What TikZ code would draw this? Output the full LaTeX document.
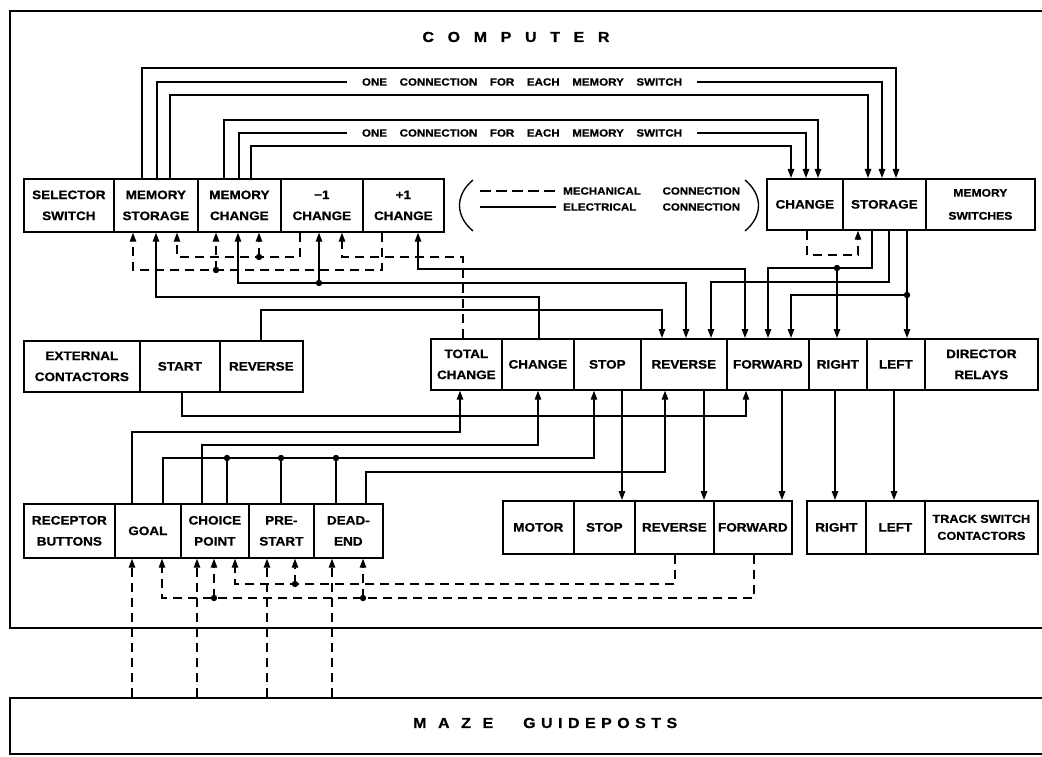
\documentclass[tikz,border=0pt]{standalone}
\usepackage{fontspec}
\newfontfamily\lblfont{Liberation Sans}[FakeStretch=1.1,FakeBold=0.8]
\usetikzlibrary{arrows.meta}
\newcommand\mkcell[7][]{\node[cell,minimum width=#5pt,minimum height=#6pt,#1] (#2) at (#3,#4) {#7};}
\begin{document}
\begin{tikzpicture}[x=1pt,y=-1pt,
  cell/.style={draw,line width=1.7pt,inner sep=0pt,anchor=north west,align=center,
    font=\lblfont\bfseries\fontsize{12.3}{21}\selectfont},
  frame/.style={draw,line width=1.9pt,inner sep=0pt,anchor=north west},
  wire/.style={line width=1.35pt},
  mech/.style={line width=1.35pt,dash pattern=on 9pt off 6pt},
  tip/.style={-{Triangle[length=9pt,width=6.5pt]}},
  tipboth/.style={{Triangle[length=9pt,width=6.5pt]}-{Triangle[length=9pt,width=6.5pt]}},
  lbl/.style={inner ysep=0pt,inner xsep=15pt,font=\lblfont\bfseries\fontsize{10.5}{10.5}\selectfont},
  leg/.style={inner ysep=0pt,inner xsep=7pt,anchor=west,font=\lblfont\bfseries\fontsize{10.5}{10.5}\selectfont},
  big/.style={inner sep=0pt,font=\lblfont\bfseries\fontsize{14.5}{14.5}\selectfont},
]
\useasboundingbox (0,0) rectangle (1042,757);

% frames
\node[frame,minimum width=1045pt,minimum height=617pt] (comp) at (9,10) {};
\node[frame,minimum width=1045pt,minimum height=56pt] (maze) at (9,697) {};
\node[big] (title) at (516,37) {\hbox to 187pt{C\hfill O\hfill M\hfill P\hfill U\hfill T\hfill E\hfill R}};
\node[big,anchor=west] (mazet) at (413,723) {\hbox to 80pt{M\hfill A\hfill Z\hfill E}\hspace{30pt}\hbox to 154pt{G\hfill U\hfill I\hfill D\hfill E\hfill P\hfill O\hfill S\hfill T\hfill S}};

% row 1
\mkcell{sel}{23}{178}{90}{53}{SELECTOR\\SWITCH}
\mkcell{mst}{113}{178}{84}{53}{MEMORY\\STORAGE}
\mkcell{mch}{197}{178}{83}{53}{MEMORY\\CHANGE}
\mkcell{mmi}{280}{178}{82}{53}{−1\\CHANGE}
\mkcell{mpl}{362}{178}{81}{53}{+1\\CHANGE}
\mkcell{swc}{766}{178}{76}{51}{CHANGE}
\mkcell{sws}{842}{178}{83}{51}{STORAGE}
\mkcell[font=\lblfont\bfseries\fontsize{11}{23}\selectfont]{swl}{925}{178}{109}{51}{MEMORY\\SWITCHES}

% legend
\node[leg] (lgm) at (556,191) {\hbox to 177pt{MECHANICAL\hfill CONNECTION}};
\node[leg] (lge) at (556,207) {\hbox to 177pt{ELECTRICAL\hfill CONNECTION}};
\draw[line width=1.35pt,dash pattern=on 11pt off 5pt] (480,191) -- (lgm.west);
\draw[line width=1.35pt] (480,207) -- (lge.west);
\draw[line width=1.35pt] (473,180) .. controls (455,195) and (455,216) .. (473,231);
\draw[line width=1.35pt] (745,180) .. controls (763,195) and (763,216) .. (745,231);

% row 2
\mkcell{ext}{23}{340}{116}{51}{EXTERNAL\\CONTACTORS}
\mkcell{est}{139}{340}{80}{51}{START}
\mkcell{erv}{219}{340}{83}{51}{REVERSE}
\mkcell{dtc}{430}{338}{71}{51}{TOTAL\\CHANGE}
\mkcell{dch}{501}{338}{72}{51}{CHANGE}
\mkcell{dst}{573}{338}{67}{51}{STOP}
\mkcell{drv}{640}{338}{86}{51}{REVERSE}
\mkcell{dfw}{726}{338}{82}{51}{FORWARD}
\mkcell{drt}{808}{338}{58}{51}{RIGHT}
\mkcell{dlf}{866}{338}{58}{51}{LEFT}
\mkcell{dlb}{924}{338}{113}{51}{DIRECTOR\\RELAYS}

% row 3
\mkcell{rrb}{23}{503}{91}{54}{RECEPTOR\\BUTTONS}
\mkcell{rgo}{114}{503}{66}{54}{GOAL}
\mkcell{rcp}{180}{503}{68}{54}{CHOICE\\POINT}
\mkcell{rps}{248}{503}{65}{54}{PRE-\\START}
\mkcell{rde}{313}{503}{69}{54}{DEAD-\\END}
\mkcell{mot}{502}{500}{71}{53}{MOTOR}
\mkcell{mtp}{573}{500}{61}{53}{STOP}
\mkcell{mrv}{634}{500}{79}{53}{REVERSE}
\mkcell{mfw}{713}{500}{78}{53}{FORWARD}
\mkcell{trt}{806}{500}{59}{53}{RIGHT}
\mkcell{tlf}{865}{500}{59}{53}{LEFT}
\mkcell[font=\lblfont\bfseries\fontsize{11.5}{17}\selectfont]{tlb}{924}{500}{113}{53}{TRACK SWITCH\\CONTACTORS}

% top wiring
\node[lbl] (lab1) at (522,82) {\hbox to 320pt{ONE\hfill CONNECTION\hfill FOR\hfill EACH\hfill MEMORY\hfill SWITCH}};
\node[lbl] (lab2) at (522,133) {\hbox to 320pt{ONE\hfill CONNECTION\hfill FOR\hfill EACH\hfill MEMORY\hfill SWITCH}};
\draw[wire,tip] (142,0 |- mst.north) |- (896,68) -- (896,0 |- sws.north);
\draw[wire] (157,0 |- mst.north) |- (lab1.west);
\draw[wire,tip] (lab1.east) -| (882,0 |- sws.north);
\draw[wire,tip] (170,0 |- mst.north) |- (868,95) -- (868,0 |- sws.north);
\draw[wire,tip] (224,0 |- mch.north) |- (818,120) -- (818,0 |- swc.north);
\draw[wire] (239,0 |- mch.north) |- (lab2.west);
\draw[wire,tip] (lab2.east) -| (806,0 |- swc.north);
\draw[wire,tip] (251,0 |- mch.north) |- (791,146) -- (791,0 |- swc.north);

% under row 1
\coordinate (ja) at (216,270);
\coordinate (jb) at (259,257);
\coordinate (jc) at (319,283);
\draw[mech,tip] (382,0 |- mpl.south) |- (133,270) -- (133,0 |- mst.south);
\draw[mech,tip] (ja) -- (216,0 |- mch.south);
\draw[mech,tip] (300,0 |- mmi.south) |- (177,257) -- (177,0 |- mst.south);
\draw[mech,tip] (jb) -- (259,0 |- mch.south);
\draw[mech,tip] (463,0 |- dtc.north) |- (342,257) -- (342,0 |- mmi.south);
\draw[wire,tip] (539,0 |- dch.north) |- (156,297) -- (156,0 |- mst.south);
\draw[wire,tipboth] (238,0 |- mch.south) |- (jc) -| (686,0 |- drv.north);
\draw[wire,tip] (jc) -- (319,0 |- mmi.south);
\draw[wire,tipboth] (418,0 |- mpl.south) |- (745,269) -- (745,0 |- dfw.north);
\draw[wire,tip] (261,0 |- erv.north) |- (662,310) -- (662,0 |- drv.north);

% memory switches to director relays
\coordinate (jd) at (837,268);
\coordinate (je) at (907,295);
\draw[wire,tip] (872,0 |- sws.south) |- (768,268) -- (768,0 |- dfw.north);
\draw[wire,tip] (jd) -- (837,0 |- drt.north);
\draw[wire,tip] (889,0 |- sws.south) |- (711,282) -- (711,0 |- drv.north);
\draw[wire,tip] (907,0 |- sws.south) -- (907,0 |- dlf.north);
\draw[wire,tip] (je) -- (791,295) -- (791,0 |- dfw.north);
\draw[mech,tip] (807,0 |- swc.south) |- (858,255) -- (858,0 |- sws.south);

% below director relays
\coordinate (jf) at (227,458);
\coordinate (jg) at (281,458);
\coordinate (jh) at (336,458);
\draw[wire,tip] (182,0 |- est.south) |- (746,416) -- (746,0 |- dfw.south);
\draw[wire,tip] (132,0 |- rgo.north) |- (460,432) -- (460,0 |- dtc.south);
\draw[wire,tip] (202,0 |- rcp.north) |- (538,445) -- (538,0 |- dch.south);
\draw[wire,tip] (163,0 |- rgo.north) |- (594,458) -- (594,0 |- dst.south);
\draw[wire] (jf) -- (227,0 |- rcp.north);
\draw[wire] (jg) -- (281,0 |- rps.north);
\draw[wire] (jh) -- (336,0 |- rde.north);
\draw[wire,tip] (366,0 |- rde.north) |- (665,472) -- (665,0 |- drv.south);
\draw[wire,tip] (622,0 |- dst.south) -- (622,0 |- mtp.north);
\draw[wire,tip] (704,0 |- drv.south) -- (704,0 |- mrv.north);
\draw[wire,tip] (782,0 |- dfw.south) -- (782,0 |- mfw.north);
\draw[wire,tip] (835,0 |- drt.south) -- (835,0 |- trt.north);
\draw[wire,tip] (894,0 |- dlf.south) -- (894,0 |- tlf.north);

% mechanical bottom
\coordinate (jk) at (295,584);
\coordinate (jm) at (214,598);
\coordinate (jn) at (363,598);
\draw[mech,tip] (675,0 |- mrv.south) |- (235,584) -- (235,0 |- rcp.south);
\draw[mech,tip] (jk) -- (295,0 |- rps.south);
\draw[mech,tip] (754,0 |- mfw.south) |- (162,598) -- (162,0 |- rgo.south);
\draw[mech,tip] (jm) -- (214,0 |- rcp.south);
\draw[mech,tip] (jn) -- (363,0 |- rde.south);
\draw[mech,tip] (132,0 |- maze.north) -- (132,0 |- rgo.south);
\draw[mech,tip] (197,0 |- maze.north) -- (197,0 |- rcp.south);
\draw[mech,tip] (267,0 |- maze.north) -- (267,0 |- rps.south);
\draw[mech,tip] (332,0 |- maze.north) -- (332,0 |- rde.south);

% junction dots
\foreach \j in {ja,jb,jc,jd,je,jf,jg,jh,jk,jm,jn} \fill (\j) circle (3.2pt);
\end{tikzpicture}
\end{document}
